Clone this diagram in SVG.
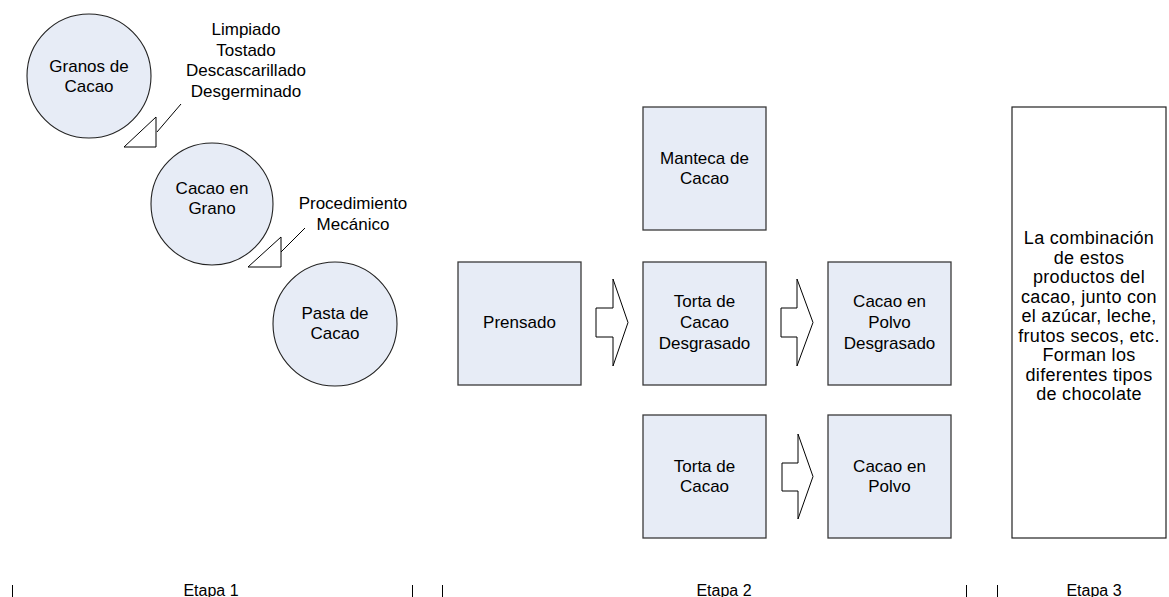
<svg xmlns="http://www.w3.org/2000/svg" width="1169" height="597" viewBox="0 0 1169 597">
<style>
  text { font-family: "Liberation Sans", Arial, sans-serif; font-size: 17px; fill: #000; text-anchor: middle; }
  .node { fill: #E7ECF6; stroke: #3a3a3a; stroke-width: 1.3; }
  .circ { fill: #E7ECF6; stroke: #222; stroke-width: 1.1; }
  .plain { fill: #fff; stroke: #222; stroke-width: 1.2; }
  .arrow { fill: #fff; stroke: #000; stroke-width: 1; }
  .tick { stroke: #000; stroke-width: 1; }
  .note { font-size: 18px; letter-spacing: 0.3px; }
  .stage { font-size: 16px; }
</style>
<rect width="1169" height="597" fill="#fff"/>

<g id="granos">
  <circle class="circ" cx="89" cy="76" r="62"/>
  <text x="89" y="72">Granos de</text>
  <text x="89" y="92">Cacao</text>
</g>
<g id="cacao-grano">
  <circle class="circ" cx="212" cy="204" r="61"/>
  <text x="212" y="194">Cacao en</text>
  <text x="212" y="214">Grano</text>
</g>
<g id="pasta">
  <circle class="circ" cx="335" cy="324" r="62"/>
  <text x="335" y="319">Pasta de</text>
  <text x="335" y="339">Cacao</text>
</g>
<g id="label-limpiado">
  <text x="246" y="35">Limpiado</text>
  <text x="246" y="56">Tostado</text>
  <text x="246" y="76">Descascarillado</text>
  <text x="246" y="97">Desgerminado</text>
</g>
<g id="label-procedimiento">
  <text x="353" y="209">Procedimiento</text>
  <text x="353" y="230">Mecánico</text>
</g>

<g id="prensado">
  <rect class="node" x="458" y="262" width="123" height="123"/>
  <text x="519.5" y="328">Prensado</text>
</g>
<g id="manteca">
  <rect class="node" x="643" y="107" width="123" height="123"/>
  <text x="704.5" y="164">Manteca de</text>
  <text x="704.5" y="184">Cacao</text>
</g>
<g id="torta-desgrasado">
  <rect class="node" x="643" y="262" width="123" height="123"/>
  <text x="704.5" y="307">Torta de</text>
  <text x="704.5" y="328">Cacao</text>
  <text x="704.5" y="349">Desgrasado</text>
</g>
<g id="polvo-desgrasado">
  <rect class="node" x="828" y="262" width="123" height="123"/>
  <text x="889.5" y="307">Cacao en</text>
  <text x="889.5" y="328">Polvo</text>
  <text x="889.5" y="349">Desgrasado</text>
</g>
<g id="torta">
  <rect class="node" x="643" y="415" width="123" height="123"/>
  <text x="704.5" y="472">Torta de</text>
  <text x="704.5" y="492">Cacao</text>
</g>
<g id="polvo">
  <rect class="node" x="828" y="415" width="123" height="123"/>
  <text x="889.5" y="472">Cacao en</text>
  <text x="889.5" y="492">Polvo</text>
</g>
<g id="combinacion">
  <rect class="plain" x="1012" y="107" width="154" height="431"/>
  <text class="note" x="1089" y="244">La combinación</text>
  <text class="note" x="1089" y="264">de estos</text>
  <text class="note" x="1089" y="283">productos del</text>
  <text class="note" x="1089" y="303">cacao, junto con</text>
  <text class="note" x="1089" y="322">el azúcar, leche,</text>
  <text class="note" x="1089" y="342">frutos secos, etc.</text>
  <text class="note" x="1089" y="361">Forman los</text>
  <text class="note" x="1089" y="381">diferentes tipos</text>
  <text class="note" x="1089" y="400">de chocolate</text>
</g>

<g id="connectors">
  <polygon class="arrow" points="124,147 156,117 156,147"/>
  <line class="tick" x1="181" y1="104" x2="157" y2="132"/>
  <polygon class="arrow" points="248,267 281,237 281,267"/>
  <line class="tick" x1="305" y1="228" x2="281" y2="252"/>
  <polygon class="arrow" points="596,308 613,308 613,279 628,322.5 613,366 613,337 596,337"/>
  <polygon class="arrow" points="781,308 797,308 797,279 813,322.5 797,366 797,337 781,337"/>
  <polygon class="arrow" points="782,463 798,463 798,434 813,476.5 798,519 798,491 782,491"/>
</g>

<g id="stages">
  <line class="tick" x1="12.5" y1="585" x2="12.5" y2="597"/>
  <line class="tick" x1="412.5" y1="585" x2="412.5" y2="597"/>
  <line class="tick" x1="442.5" y1="585" x2="442.5" y2="597"/>
  <line class="tick" x1="966.5" y1="585" x2="966.5" y2="597"/>
  <line class="tick" x1="997.5" y1="585" x2="997.5" y2="597"/>
  <text class="stage" x="211" y="596">Etapa 1</text>
  <text class="stage" x="724" y="596">Etapa 2</text>
  <text class="stage" x="1094" y="596">Etapa 3</text>
</g>
</svg>
